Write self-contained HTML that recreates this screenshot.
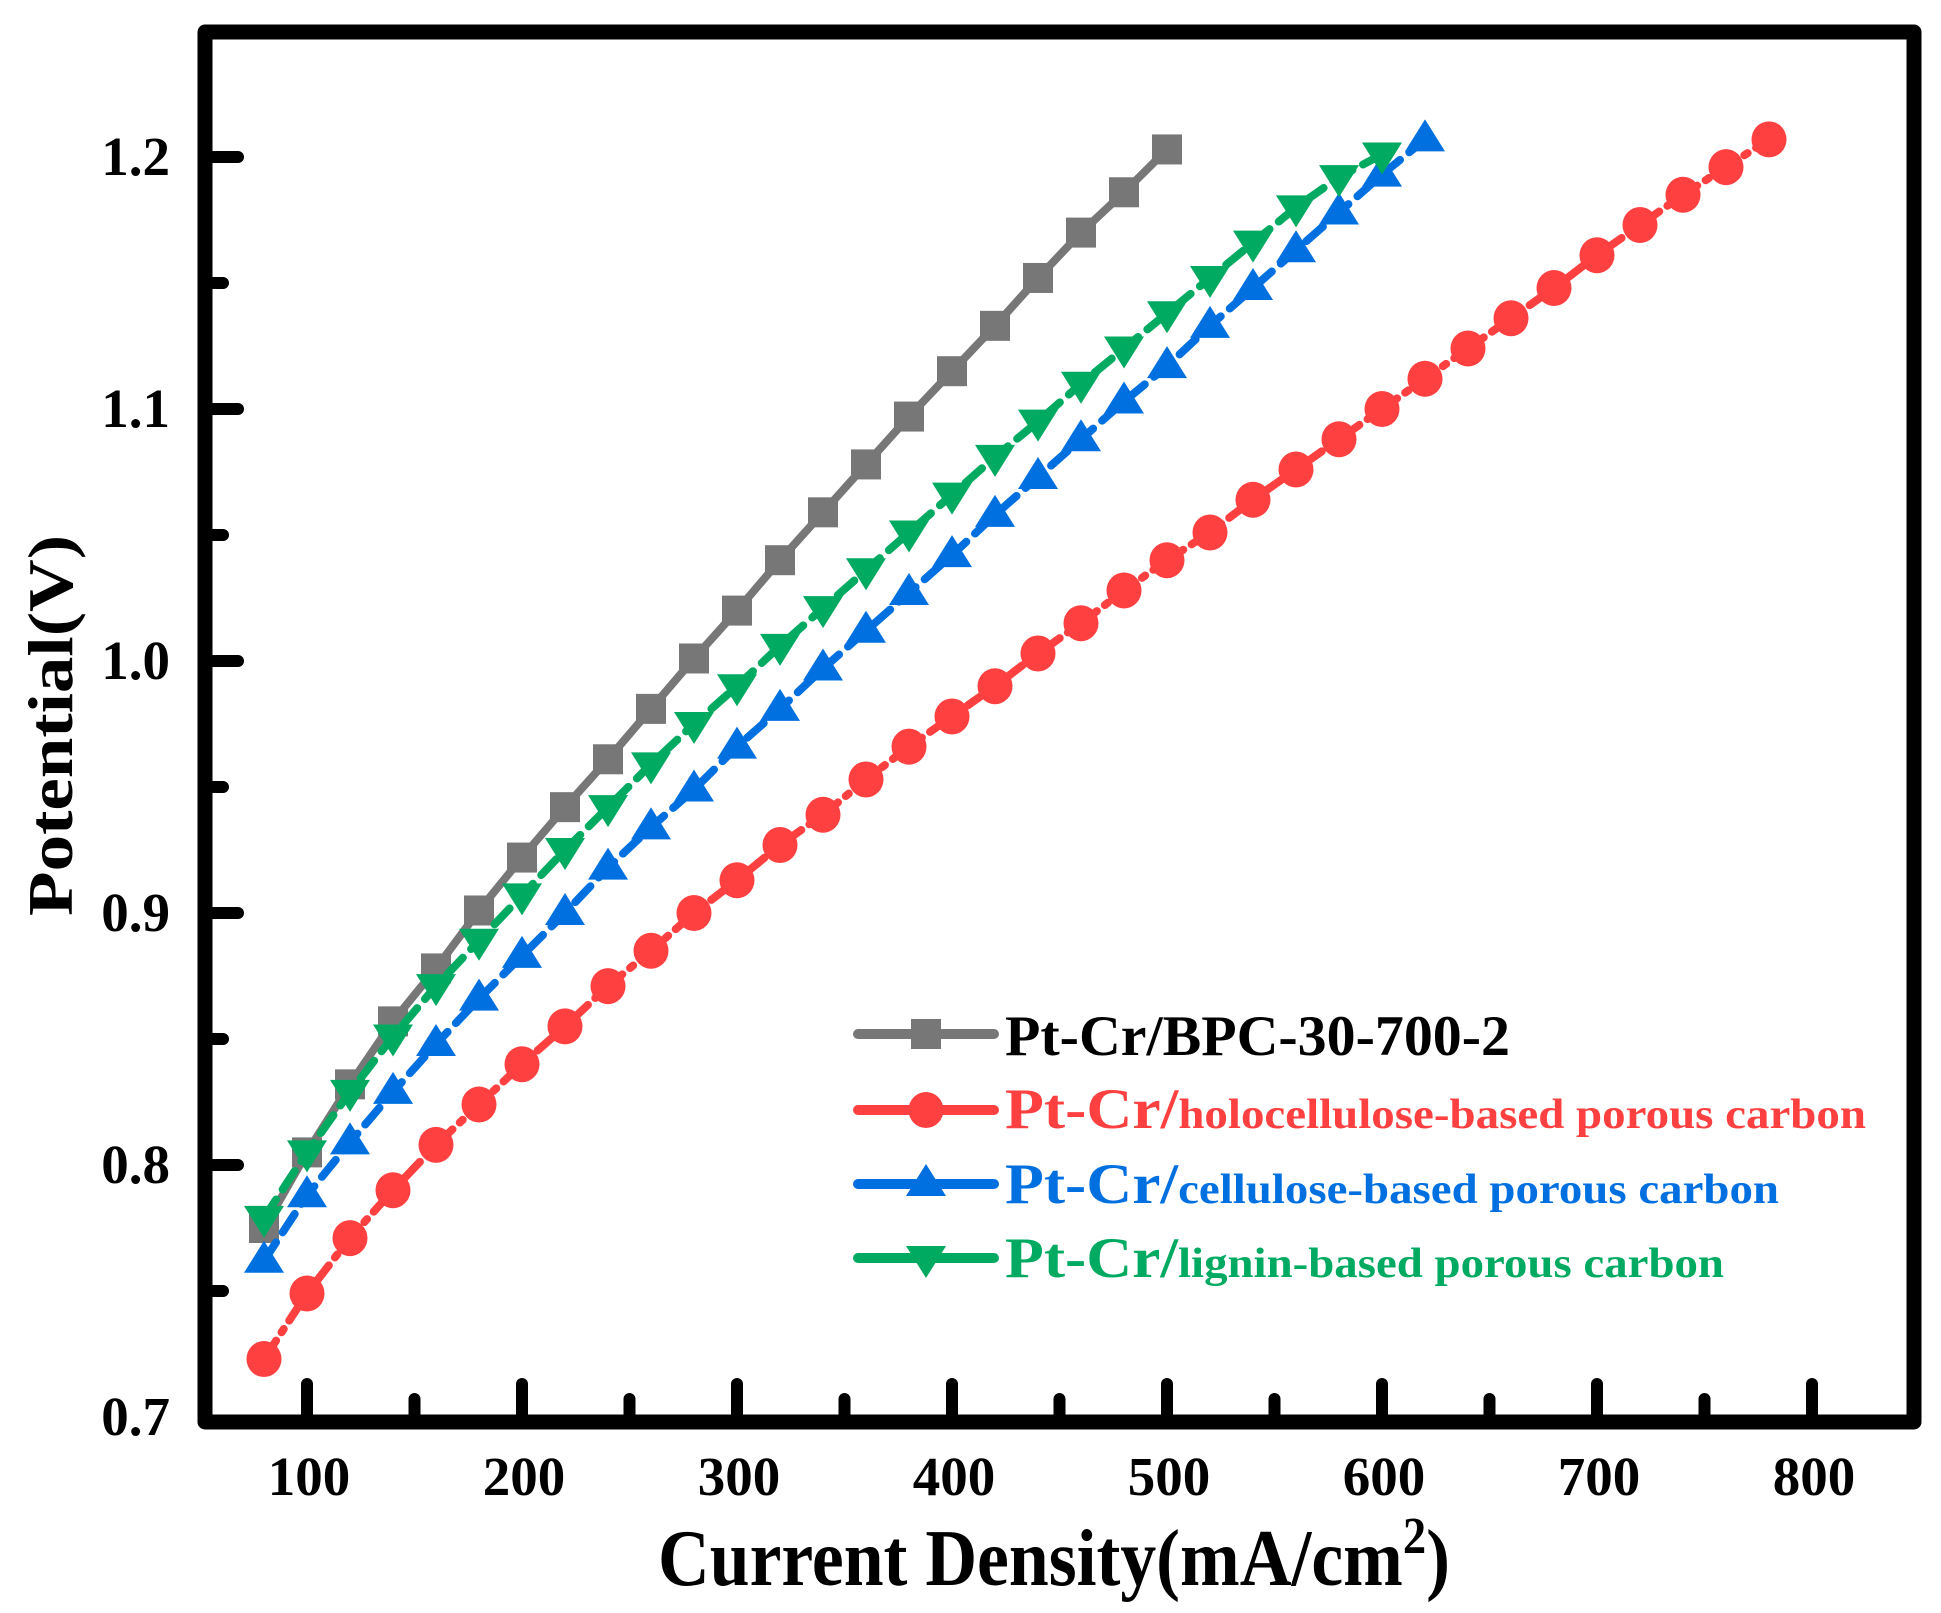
<!DOCTYPE html>
<html><head><meta charset="utf-8"><style>html,body{margin:0;padding:0;background:#fff}svg{display:block}</style></head>
<body>
<svg id="s" width="1941" height="1613" viewBox="0 0 1941 1613" xmlns="http://www.w3.org/2000/svg" font-family="Liberation Serif, serif" font-weight="bold">
<rect width="1941" height="1613" fill="#fff"/>
<g id="data"></g>
<rect x="205" y="32" width="1709" height="1390" fill="none" stroke="#000" stroke-width="15" stroke-linejoin="round"/>
<g id="ticks" stroke="#000" stroke-width="12" stroke-linecap="round"></g>
<g font-size="55" text-anchor="end">
<text x="170" y="1435">0.7</text>
<text x="170" y="1183">0.8</text>
<text x="170" y="931">0.9</text>
<text x="170" y="679">1.0</text>
<text x="170" y="427">1.1</text>
<text x="170" y="175">1.2</text>
</g>
<g font-size="55" text-anchor="middle">
<text x="309" y="1495">100</text>
<text x="524" y="1495">200</text>
<text x="739" y="1495">300</text>
<text x="954" y="1495">400</text>
<text x="1169" y="1495">500</text>
<text x="1384" y="1495">600</text>
<text x="1599" y="1495">700</text>
<text x="1814" y="1495">800</text>
</g>
<text x="658" y="1585" font-size="80" textLength="792" lengthAdjust="spacingAndGlyphs">Current Density(mA/cm<tspan font-size="52" dy="-32">2</tspan><tspan dy="32">)</tspan></text>
<text transform="translate(72,916) rotate(-90)" font-size="64" textLength="381" lengthAdjust="spacingAndGlyphs">Potential(V)</text>
<g id="leg"></g>
<text x="1005" y="1055" font-size="57" fill="#000" textLength="505" lengthAdjust="spacingAndGlyphs">Pt-Cr/BPC-30-700-2</text>
<text x="1005" y="1128" font-size="57" fill="#ff4040" textLength="861" lengthAdjust="spacingAndGlyphs">Pt-Cr/<tspan font-size="42">holocellulose-based porous carbon</tspan></text>
<text x="1005" y="1203" font-size="57" fill="#0070e0" textLength="774" lengthAdjust="spacingAndGlyphs">Pt-Cr/<tspan font-size="42">cellulose-based porous carbon</tspan></text>
<text x="1005" y="1277" font-size="57" fill="#00aa60" textLength="719" lengthAdjust="spacingAndGlyphs">Pt-Cr/<tspan font-size="42">lignin-based porous carbon</tspan></text>
</svg>
<script>
var NS="http://www.w3.org/2000/svg";
function X(v){return 307+(v-100)*2.15}
function Y(v){return 1417-(v-0.7)*2520}
function el(t,a,p){var e=document.createElementNS(NS,t);for(var k in a)e.setAttribute(k,a[k]);p.appendChild(e);return e}
var tk=document.getElementById('ticks');
for(var v=100;v<=800;v+=50){var L=(v%100==0)?30:15;el('line',{x1:X(v),y1:1414,x2:X(v),y2:1414-L},tk)}
for(var i=0;i<10;i++){var v=0.75+i*0.05;var L=(i%2==1)?30:15;el('line',{x1:208,y1:Y(v),x2:208+L,y2:Y(v)},tk)}
var S=[
{c:'#777777',m:'sq',d:'',x0:80,y:[0.775,0.805,0.832,0.857,0.878,0.901,0.922,0.942,0.961,0.981,1.001,1.02,1.04,1.059,1.078,1.097,1.115,1.133,1.152,1.17,1.186,1.203]},
{c:'#ff4040',m:'ci',d:'22 10 4 10',x0:80,y:[0.723,0.749,0.771,0.79,0.808,0.824,0.84,0.855,0.871,0.885,0.9,0.913,0.927,0.939,0.953,0.966,0.978,0.99,1.003,1.015,1.028,1.04,1.051,1.064,1.076,1.088,1.1,1.112,1.124,1.136,1.148,1.161,1.173,1.185,1.196,1.207]},
{c:'#0070e0',m:'up',d:'22 12',x0:80,y:[0.762,0.788,0.809,0.829,0.848,0.866,0.883,0.9,0.918,0.934,0.949,0.966,0.981,0.997,1.012,1.027,1.042,1.058,1.073,1.088,1.103,1.117,1.133,1.148,1.163,1.178,1.193,1.207]},
{c:'#00aa60',m:'dn',d:'22 12',x0:80,y:[0.779,0.805,0.829,0.851,0.871,0.889,0.907,0.925,0.942,0.959,0.975,0.99,1.006,1.021,1.036,1.051,1.066,1.081,1.095,1.11,1.124,1.138,1.152,1.166,1.18,1.192,1.201]}];
function mk(m,x,y,c,g){
 if(m=='sq')el('rect',{x:x-15,y:y-15,width:30,height:30,fill:c},g);
 else if(m=='ci')el('ellipse',{cx:x,cy:y,rx:17.5,ry:18,fill:c},g);
 else if(m=='up')el('polygon',{points:(x-20)+','+(y+12)+' '+(x+20)+','+(y+12)+' '+x+','+(y-20),fill:c},g);
 else el('polygon',{points:(x-20)+','+(y-12)+' '+(x+20)+','+(y-12)+' '+x+','+(y+20),fill:c},g);
}
var g=document.getElementById('data');
S.forEach(function(s){
 var pts=s.y.map(function(v,i){return X(s.x0+20*i)+','+Y(v)}).join(' ');
 var a={points:pts,fill:'none',stroke:s.c,'stroke-width':8,'stroke-linecap':'round','stroke-linejoin':'round'};
 if(s.d)a['stroke-dasharray']=s.d;
 el('polyline',a,g);
 s.y.forEach(function(v,i){mk(s.m,X(s.x0+20*i),Y(v),s.c,g)});
});
var lg=document.getElementById('leg');var ly=[1034,1110,1184,1258];
S.forEach(function(s,i){
 el('line',{x1:858,y1:ly[i],x2:994,y2:ly[i],stroke:s.c,'stroke-width':10,'stroke-linecap':'round'},lg);
 mk(s.m,926,ly[i],s.c,lg);
});
</script>
</body></html>
